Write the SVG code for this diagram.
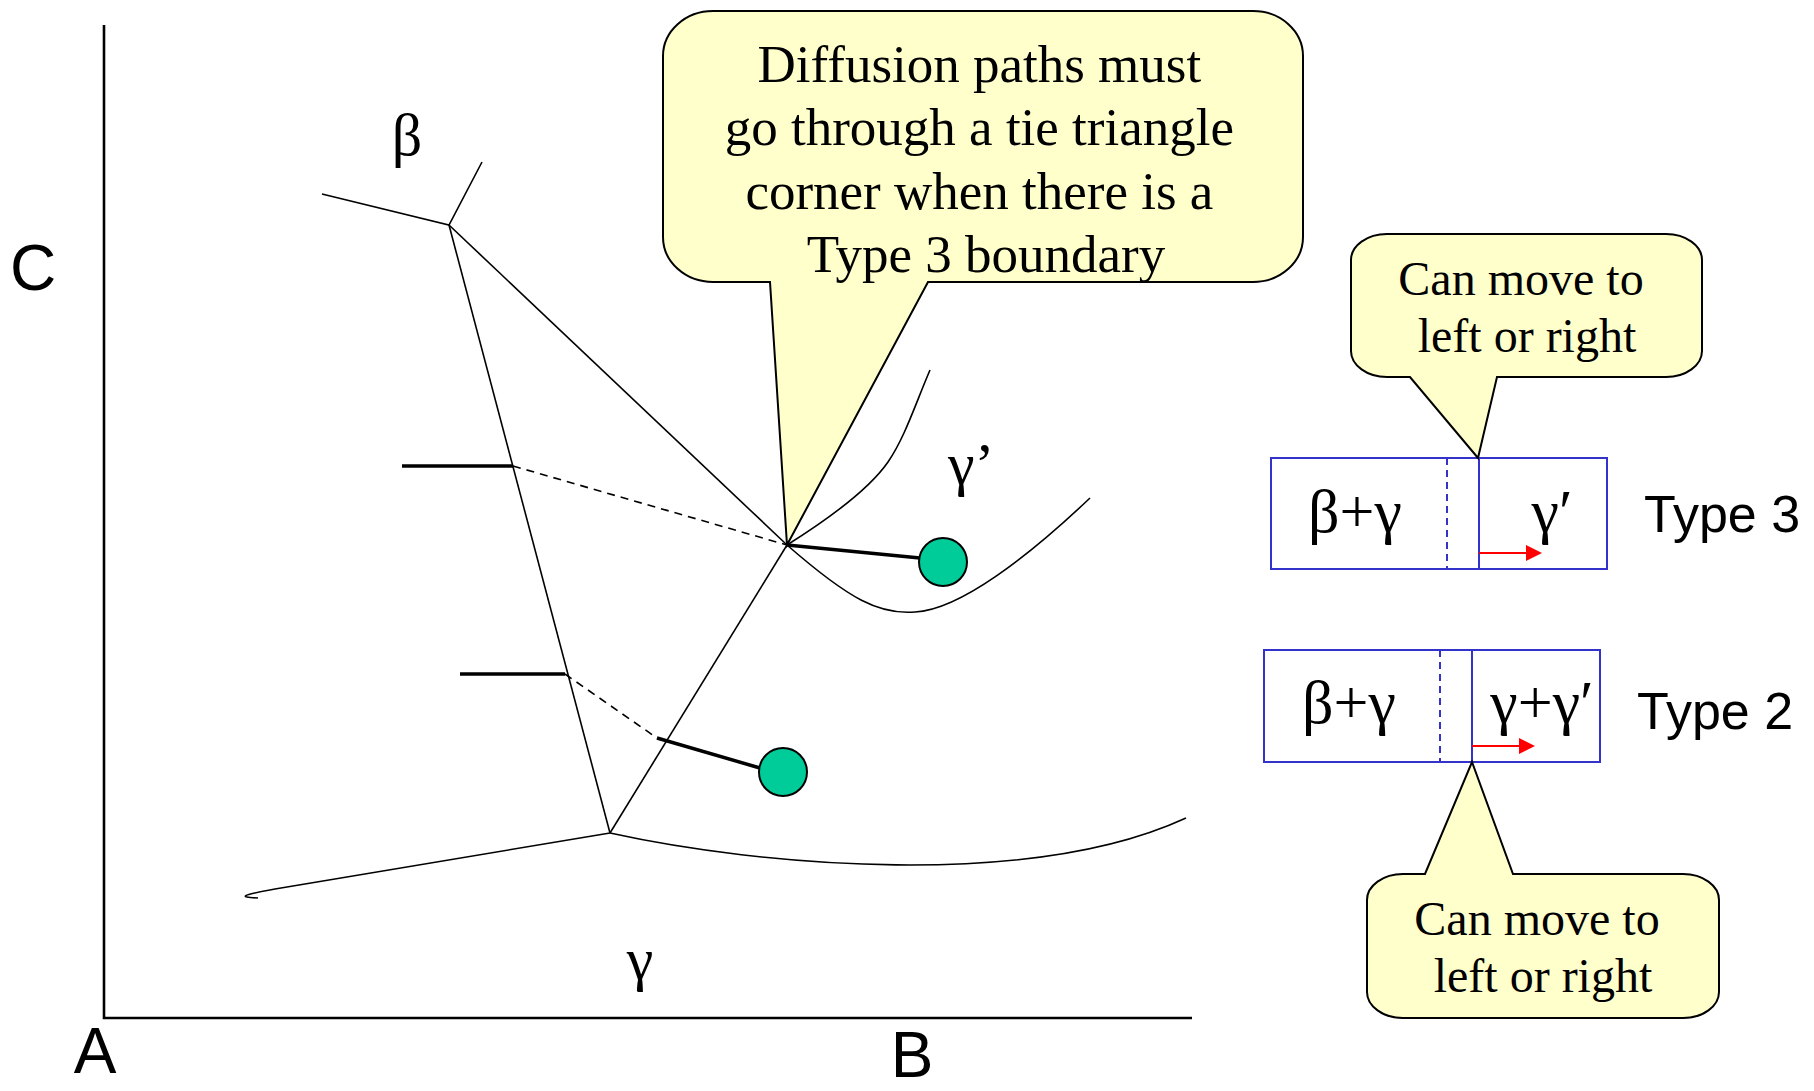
<svg xmlns="http://www.w3.org/2000/svg" width="1814" height="1091" viewBox="0 0 1814 1091">
<defs>
<style>
.ln{fill:none;stroke:#000;stroke-width:1.6}
.thick{fill:none;stroke:#000;stroke-width:3.5}
.dash{fill:none;stroke:#000;stroke-width:1.6;stroke-dasharray:8,6}
.axis{fill:none;stroke:#000;stroke-width:2.6}
.callout{fill:#FFFFCC;stroke:#000;stroke-width:2}
.box{fill:none;stroke:#3333CC;stroke-width:2}
.bdash{fill:none;stroke:#3333CC;stroke-width:2;stroke-dasharray:7,5}
.red{fill:none;stroke:#FF0000;stroke-width:2}
.dot{fill:#00CC99;stroke:#000;stroke-width:2}
.serif{font-family:"Liberation Serif","Times New Roman",serif;fill:#000}
.sans{font-family:"Liberation Sans",Arial,sans-serif;fill:#000}
</style>
<marker id="arr" markerWidth="16" markerHeight="16" refX="1" refY="8" orient="auto" markerUnits="userSpaceOnUse">
<path d="M0,0 L16,8 L0,16 Z" fill="#FF0000"/>
</marker>
</defs>
<rect width="1814" height="1091" fill="#fff"/>

<g id="axes">
<path class="axis" d="M104,25 V1018 H1192"/>
<text class="sans" x="33" y="290" font-size="64" text-anchor="middle">C</text>
<text class="sans" x="95" y="1073" font-size="64" text-anchor="middle">A</text>
<text class="sans" x="912" y="1077" font-size="64" text-anchor="middle">B</text>
</g>

<g id="connectors">
<path class="ln" d="M322,194 L449,225 L482,162"/>
<path class="ln" d="M449,225 L787,545"/>
<path class="ln" d="M449,225 L610,833"/>
<path class="ln" d="M610,833 L787,545"/>
<path class="ln" d="M610,833 C760,866 1030,890 1186,818"/>
<path class="ln" d="M610,833 L275,889 C243,895 236,897 258,898"/>
<path class="ln" d="M787,545 C830,518 870,488 888,462 C905,437 915,405 930,370"/>
<path class="ln" d="M787,545 C850,600 880,615 915,612 C960,610 1030,555 1090,498"/>
<path class="thick" d="M402,466 H513"/>
<path class="dash" d="M513,466 L787,545"/>
<path class="thick" d="M787,545 L920,558"/>
<path class="thick" d="M460,674 H565"/>
<path class="dash" d="M565,674 L657,738"/>
<path class="thick" d="M657,738 L760,768"/>
</g>

<g id="phase-labels">
<text class="serif" x="407" y="155" font-size="60" text-anchor="middle">β</text>
<text class="serif" x="948" y="484" font-size="60">γ’</text>
<text class="serif" x="640" y="979" font-size="60" text-anchor="middle">γ</text>
</g>

<g id="point1"><circle class="dot" cx="943" cy="562" r="24"/></g>
<g id="point2"><circle class="dot" cx="783" cy="772" r="24"/></g>

<g id="callout-main">
<path class="callout" d="M713,11 H1253 A50 45 0 0 1 1303 56 V237 A50 45 0 0 1 1253 282 H928 L787,545 L770,282 H713 A50 45 0 0 1 663 237 V56 A50 45 0 0 1 713 11 Z"/>
<text class="serif" font-size="53" text-anchor="middle">
<tspan x="986" y="82">Diffusion paths must</tspan>
<tspan x="986" y="145">go through a tie triangle</tspan>
<tspan x="986" y="209">corner when there is a</tspan>
<tspan x="986" y="272">Type 3 boundary</tspan>
</text>
</g>

<g id="type3-box">
<rect class="box" x="1271" y="458" width="336" height="111"/>
<line class="bdash" x1="1447" y1="458" x2="1447" y2="569"/>
<line class="box" x1="1479" y1="458" x2="1479" y2="569"/>
<line class="red" x1="1479" y1="553" x2="1527" y2="553" marker-end="url(#arr)"/>
<text class="serif" x="1355" y="532" font-size="62" text-anchor="middle">β+γ</text>
<text class="serif" x="1552" y="532" font-size="62" text-anchor="middle">γ′</text>
<text class="sans" x="1644" y="532" font-size="52">Type 3</text>
</g>

<g id="callout-type3">
<path class="callout" d="M1387,234 H1666 A36 26 0 0 1 1702 260 V351 A36 26 0 0 1 1666 377 H1497 L1478,458 L1410,377 H1387 A36 26 0 0 1 1351 351 V260 A36 26 0 0 1 1387 234 Z"/>
<text class="serif" font-size="48" text-anchor="middle">
<tspan x="1527" y="295">Can move to</tspan>
<tspan x="1527" y="352">left or right</tspan>
</text>
</g>

<g id="type2-box">
<rect class="box" x="1264" y="650" width="336" height="112"/>
<line class="bdash" x1="1440" y1="650" x2="1440" y2="762"/>
<line class="box" x1="1472" y1="650" x2="1472" y2="762"/>
<line class="red" x1="1472" y1="746" x2="1520" y2="746" marker-end="url(#arr)"/>
<text class="serif" x="1349" y="723" font-size="62" text-anchor="middle">β+γ</text>
<text class="serif" x="1542" y="723" font-size="62" text-anchor="middle">γ+γ′</text>
<text class="sans" x="1637" y="729" font-size="52">Type 2</text>
</g>

<g id="callout-type2">
<path class="callout" d="M1403,874 H1425 L1472,762 L1513,874 H1683 A36 26 0 0 1 1719 900 V992 A36 26 0 0 1 1683 1018 H1403 A36 26 0 0 1 1367 992 V900 A36 26 0 0 1 1403 874 Z"/>
<text class="serif" font-size="48" text-anchor="middle">
<tspan x="1543" y="935">Can move to</tspan>
<tspan x="1543" y="992">left or right</tspan>
</text>
</g>
</svg>
